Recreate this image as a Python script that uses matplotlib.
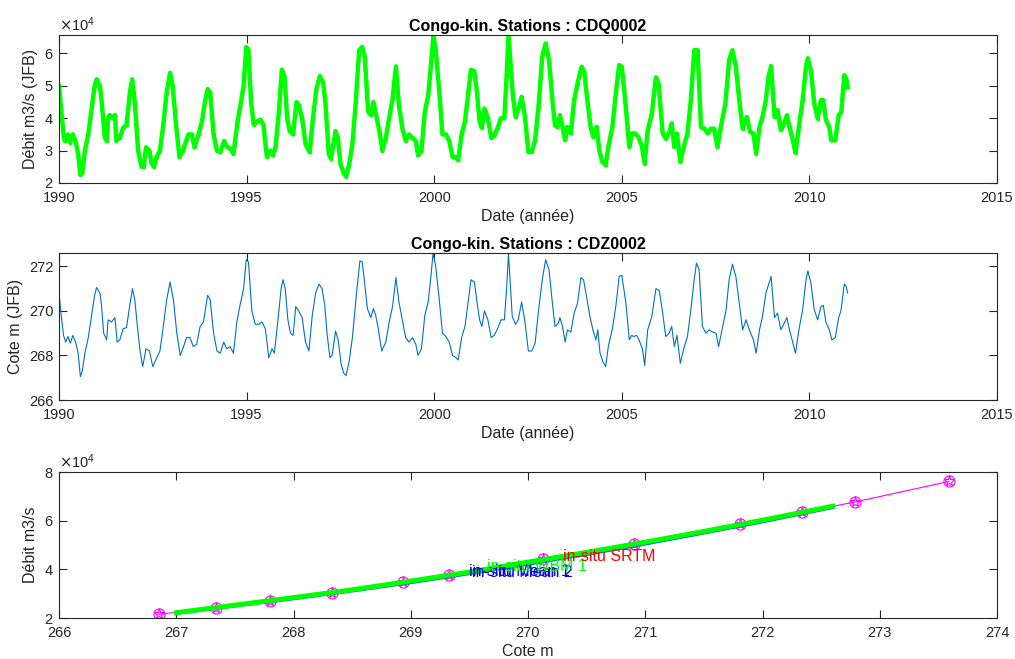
import numpy as np
import matplotlib
matplotlib.use("Agg")
import matplotlib.pyplot as plt
from matplotlib.ticker import ScalarFormatter

plt.rcParams['font.family'] = ['Liberation Sans', 'DejaVu Sans']

# ---------------- data: discharge (top) ----------------
q_year = [1990.00, 1990.06, 1990.12, 1990.15, 1990.24, 1990.30, 1990.37, 1990.45, 1990.51, 1990.57,
          1990.62, 1990.69, 1990.78, 1990.86, 1990.95, 1991.00, 1991.09, 1991.13, 1991.22, 1991.27,
          1991.31, 1991.35, 1991.43, 1991.49, 1991.53, 1991.62, 1991.71, 1991.80, 1991.89, 1991.95,
          1992.02, 1992.11, 1992.20, 1992.26, 1992.32, 1992.41, 1992.47, 1992.53, 1992.60, 1992.69,
          1992.78, 1992.87, 1992.96, 1993.03, 1993.12, 1993.21, 1993.30, 1993.39, 1993.45, 1993.54,
          1993.61, 1993.72, 1993.81, 1993.89, 1993.96, 1994.03, 1994.12, 1994.21, 1994.30, 1994.40,
          1994.49, 1994.58, 1994.65, 1994.76, 1994.85, 1994.92, 1994.99, 1995.05, 1995.12, 1995.19,
          1995.28, 1995.37, 1995.45, 1995.54, 1995.63, 1995.70, 1995.77, 1995.86, 1995.94, 1996.01,
          1996.08, 1996.15, 1996.24, 1996.33, 1996.39, 1996.48, 1996.57, 1996.68, 1996.77, 1996.86,
          1996.95, 1997.04, 1997.10, 1997.19, 1997.25, 1997.37, 1997.43, 1997.50, 1997.59, 1997.65,
          1997.73, 1997.82, 1997.91, 1998.00, 1998.08, 1998.15, 1998.24, 1998.31, 1998.38, 1998.47,
          1998.54, 1998.62, 1998.71, 1998.80, 1998.89, 1998.98, 1999.06, 1999.15, 1999.24, 1999.33,
          1999.42, 1999.51, 1999.57, 1999.66, 1999.75, 1999.84, 1999.91, 1999.98, 2000.04, 2000.13,
          2000.22, 2000.31, 2000.40, 2000.49, 2000.58, 2000.64, 2000.73, 2000.82, 2000.91, 2000.98,
          2001.07, 2001.14, 2001.21, 2001.27, 2001.34, 2001.43, 2001.52, 2001.60, 2001.69, 2001.78,
          2001.87, 2001.93, 2001.98, 2002.10, 2002.17, 2002.26, 2002.33, 2002.42, 2002.51, 2002.60,
          2002.69, 2002.78, 2002.88, 2002.97, 2003.06, 2003.15, 2003.22, 2003.28, 2003.35, 2003.42,
          2003.49, 2003.55, 2003.64, 2003.73, 2003.82, 2003.93, 2004.00, 2004.08, 2004.17, 2004.24,
          2004.33, 2004.40, 2004.48, 2004.57, 2004.64, 2004.75, 2004.84, 2004.93, 2005.00, 2005.09,
          2005.20, 2005.27, 2005.36, 2005.44, 2005.53, 2005.61, 2005.69, 2005.80, 2005.91, 2005.98,
          2006.09, 2006.17, 2006.26, 2006.33, 2006.40, 2006.47, 2006.56, 2006.65, 2006.75, 2006.84,
          2006.93, 2007.02, 2007.11, 2007.20, 2007.29, 2007.38, 2007.46, 2007.55, 2007.64, 2007.76,
          2007.86, 2007.95, 2008.04, 2008.13, 2008.22, 2008.33, 2008.42, 2008.51, 2008.58, 2008.67,
          2008.75, 2008.84, 2008.91, 2008.98, 2009.07, 2009.15, 2009.24, 2009.33, 2009.40, 2009.47,
          2009.56, 2009.63, 2009.72, 2009.82, 2009.91, 2009.96, 2010.04, 2010.13, 2010.22, 2010.31,
          2010.37, 2010.44, 2010.53, 2010.58, 2010.69, 2010.78, 2010.85, 2010.93, 2010.98, 2011.02]
q_val = [50000, 42500, 35000, 33000, 35000, 32500, 35000, 32500, 29000, 22500,
         23000, 30000, 35000, 42000, 50000, 52000, 50000, 46000, 34000, 33000,
         40000, 41000, 40000, 41000, 33000, 34000, 37000, 38000, 48000, 52000,
         45000, 30000, 25000, 25000, 31000, 30000, 26000, 25000, 28000, 30000,
         38000, 48000, 54000, 50000, 38000, 28000, 30000, 33000, 35000, 35000,
         31000, 35000, 39000, 45000, 49000, 48000, 35000, 30000, 29500, 33000,
         31000, 30500, 29000, 39000, 45000, 50000, 62000, 61000, 45000, 38000,
         39000, 39500, 38000, 28000, 30000, 28500, 31000, 42000, 55000, 53000,
         40000, 36000, 35000, 45000, 44000, 40000, 32000, 29500, 40000, 49000,
         53000, 51000, 45000, 29000, 27500, 36000, 34000, 26000, 23000, 22000,
         25500, 32000, 45000, 61000, 62000, 59000, 42000, 41000, 45000, 40000,
         36000, 30000, 34000, 40000, 46000, 56000, 44000, 37000, 33000, 35000,
         34000, 33000, 28500, 30000, 42000, 47000, 56000, 65500, 61000, 49000,
         35000, 35000, 33000, 28000, 28000, 27000, 35000, 39000, 48000, 55000,
         54500, 48000, 39000, 37000, 43000, 40000, 34000, 34500, 37000, 40000,
         40000, 53000, 65700, 46600, 40400, 43500, 46600, 40400, 29600, 29600,
         33200, 43500, 59000, 63100, 57900, 45600, 37800, 37300, 40900, 37300,
         33200, 37300, 35300, 45600, 50700, 55900, 54300, 45600, 37300, 34200,
         37300, 30100, 26500, 25500, 31100, 37300, 47600, 56400, 55900, 45600,
         31100, 35300, 35300, 34200, 31600, 26000, 36300, 41400, 52600, 50700,
         35300, 33700, 35300, 38400, 31100, 35300, 26500, 31100, 35300, 45600,
         61000, 61000, 37300, 36800, 35300, 36800, 36800, 31100, 37300, 44500,
         57900, 61000, 55900, 45600, 36800, 40400, 35800, 35300, 29100, 37300,
         40400, 45600, 52800, 56100, 40400, 42500, 36300, 38400, 40900, 37300,
         33200, 29300, 37300, 45600, 55900, 58500, 54800, 44500, 39900, 45600,
         45600, 39400, 37300, 33200, 33200, 40900, 41900, 53300, 52300, 49500]

# ---------------- data: stage (middle) ----------------
h_year = [1990.00, 1990.06, 1990.12, 1990.18, 1990.24, 1990.30, 1990.37, 1990.45, 1990.51, 1990.57,
          1990.62, 1990.69, 1990.78, 1990.86, 1990.95, 1991.00, 1991.09, 1991.13, 1991.19, 1991.27,
          1991.31, 1991.40, 1991.49, 1991.55, 1991.62, 1991.71, 1991.80, 1991.89, 1991.96, 1992.02,
          1992.09, 1992.16, 1992.23, 1992.32, 1992.41, 1992.50, 1992.58, 1992.69, 1992.78, 1992.87,
          1992.96, 1993.05, 1993.14, 1993.23, 1993.32, 1993.40, 1993.49, 1993.58, 1993.67, 1993.76,
          1993.85, 1993.96, 1994.03, 1994.12, 1994.21, 1994.30, 1994.39, 1994.47, 1994.56, 1994.65,
          1994.74, 1994.83, 1994.92, 1994.99, 1995.05, 1995.14, 1995.23, 1995.32, 1995.41, 1995.50,
          1995.59, 1995.68, 1995.74, 1995.83, 1995.92, 1995.97, 1996.03, 1996.10, 1996.17, 1996.24,
          1996.31, 1996.39, 1996.48, 1996.57, 1996.66, 1996.75, 1996.84, 1996.93, 1997.01, 1997.08,
          1997.15, 1997.22, 1997.28, 1997.37, 1997.44, 1997.52, 1997.59, 1997.65, 1997.73, 1997.82,
          1997.93, 1998.02, 1998.08, 1998.13, 1998.22, 1998.31, 1998.38, 1998.44, 1998.51, 1998.60,
          1998.71, 1998.80, 1998.89, 1998.98, 1999.06, 1999.15, 1999.24, 1999.33, 1999.42, 1999.51,
          1999.57, 1999.66, 1999.75, 1999.84, 1999.91, 1999.97, 2000.04, 2000.13, 2000.22, 2000.31,
          2000.40, 2000.49, 2000.58, 2000.64, 2000.73, 2000.82, 2000.91, 2000.98, 2001.07, 2001.14,
          2001.21, 2001.27, 2001.34, 2001.43, 2001.52, 2001.60, 2001.69, 2001.78, 2001.87, 2001.93,
          2001.98, 2002.08, 2002.17, 2002.24, 2002.33, 2002.42, 2002.51, 2002.60, 2002.69, 2002.78,
          2002.88, 2002.97, 2003.06, 2003.15, 2003.22, 2003.31, 2003.35, 2003.42, 2003.49, 2003.55,
          2003.64, 2003.73, 2003.82, 2003.91, 2003.98, 2004.06, 2004.15, 2004.23, 2004.31, 2004.36,
          2004.42, 2004.50, 2004.57, 2004.64, 2004.75, 2004.84, 2004.93, 2005.00, 2005.11, 2005.20,
          2005.26, 2005.32, 2005.39, 2005.46, 2005.55, 2005.61, 2005.69, 2005.80, 2005.91, 2006.00,
          2006.09, 2006.17, 2006.26, 2006.33, 2006.40, 2006.47, 2006.56, 2006.65, 2006.75, 2006.84,
          2006.93, 2006.99, 2007.06, 2007.15, 2007.24, 2007.33, 2007.42, 2007.51, 2007.58, 2007.67,
          2007.78, 2007.86, 2007.95, 2008.04, 2008.13, 2008.22, 2008.31, 2008.40, 2008.51, 2008.58,
          2008.67, 2008.75, 2008.84, 2008.98, 2009.07, 2009.15, 2009.24, 2009.33, 2009.40, 2009.47,
          2009.56, 2009.63, 2009.72, 2009.82, 2009.91, 2009.96, 2010.04, 2010.13, 2010.22, 2010.31,
          2010.37, 2010.44, 2010.53, 2010.60, 2010.69, 2010.78, 2010.84, 2010.93, 2010.98, 2011.02]
h_val = [270.8, 269.8, 268.9, 268.6, 268.85, 268.55, 268.9, 268.55, 268.1, 267.05,
         267.3, 268.1, 268.8, 269.7, 270.7, 271.05, 270.8, 270.3, 269.0, 268.7,
         269.6, 269.5, 269.7, 268.6, 268.7, 269.2, 269.25, 270.3, 271.0, 270.5,
         269.3, 268.2, 267.5, 268.3, 268.2, 267.5, 267.8, 268.2, 269.3, 270.5,
         271.3, 270.5, 269.0, 268.0, 268.4, 268.8, 268.8, 268.4, 268.5, 269.3,
         269.5, 270.7, 270.5, 269.0, 268.2, 268.1, 268.6, 268.3, 268.4, 268.1,
         269.5, 270.3, 271.0, 272.3, 272.2, 270.0, 269.4, 269.4, 269.5, 269.2,
         267.9, 268.3, 268.1, 269.5, 271.0, 271.4, 271.0, 269.6, 269.0, 268.9,
         270.2, 270.0, 269.7, 268.6, 268.2, 269.8, 270.8, 271.2, 271.0, 270.3,
         268.9, 267.9, 268.0, 269.1, 268.7, 267.6, 267.2, 267.1, 267.7, 268.8,
         270.8, 272.25, 272.2, 271.5, 270.1, 269.7, 270.1, 269.8, 269.2, 268.2,
         268.6, 269.5, 270.2, 271.5, 270.4, 269.6, 268.8, 268.6, 268.8, 268.5,
         268.0, 268.3, 269.8, 270.4, 271.5, 272.6, 272.0, 270.6, 269.0, 268.85,
         268.6, 268.0, 267.9, 267.8, 268.8, 269.3, 270.5, 271.4, 271.3, 270.4,
         269.6, 269.3, 270.0, 269.6, 268.8, 268.9, 269.2, 269.6, 269.6, 271.0,
         272.57, 269.75, 269.4, 269.6, 270.4, 269.5, 268.2, 268.2, 268.55, 270.0,
         271.4, 272.3, 271.85, 270.35, 269.3, 269.45, 269.7, 269.3, 268.6, 269.15,
         269.05, 269.9, 270.35, 271.5, 271.4, 270.65, 269.75, 269.15, 268.7, 269.15,
         268.1, 267.7, 267.5, 268.4, 269.2, 270.2, 271.55, 271.6, 270.35, 268.7,
         268.9, 268.85, 268.9, 268.7, 268.3, 267.55, 269.15, 269.75, 271.0, 270.9,
         269.9, 268.85, 269.0, 269.3, 268.4, 268.9, 267.65, 268.3, 268.85, 270.05,
         271.4, 272.15, 271.85, 269.3, 269.0, 269.15, 269.05, 269.0, 268.4, 269.15,
         270.05, 271.4, 272.1, 271.55, 270.35, 269.15, 269.6, 269.15, 268.7, 268.1,
         269.15, 269.75, 270.8, 271.55, 269.7, 269.9, 269.15, 269.45, 269.7, 269.15,
         268.55, 268.1, 269.15, 270.05, 271.4, 271.8, 271.25, 270.05, 269.6, 270.2,
         270.25, 269.5, 269.15, 268.7, 268.8, 269.7, 270.0, 271.2, 271.1, 270.8]

# ---------------- data: rating curves (bottom) ----------------
srtm_h = [266.85, 267.34, 267.80, 268.33, 268.93, 269.33, 270.13, 270.90, 271.81, 272.34, 272.79, 273.59]
srtm_q = [21500, 24300, 27000, 30200, 34700, 37600, 44100, 50300, 58500, 63400, 67700, 76100]
mean_h = [267.0, 267.5, 268.0, 268.5, 269.0, 269.5, 270.0, 270.5, 271.0, 271.5, 272.0, 272.6]
mean1_q = [22000, 25000, 28000, 31200, 34600, 38300, 42200, 46200, 50500, 55000, 59600, 65500]
wbm_q = [22200, 25300, 28400, 31600, 35200, 38900, 43000, 47000, 51200, 55600, 60200, 66000]
label_text = ["in-situ Mean 1", "in-situ Mean 2", "in-situ WBM 1", "in-situ SRTM"]
label_h = [269.50, 269.52, 269.65, 270.30]
label_q = [39000, 38800, 41200, 45200]
label_col = [(0, 0, 0.75), (0, 0, 1), (0, 1, 0), (1, 0, 0)]

# ---------------- figure ----------------
W, H = 1015, 659
fig = plt.figure(figsize=(W / 100, H / 100), dpi=100)
gray = (0.15, 0.15, 0.15)
matlab_blue = (0, 0.447, 0.741)
TICK_FS = 10.5
LAB_FS = 11.5


def style(ax):
    for s in ax.spines.values():
        s.set_color(gray)
        s.set_linewidth(0.8)
    ax.tick_params(direction='in', top=True, right=True, length=6, width=0.8,
                   colors=gray, labelsize=TICK_FS)
    ax.tick_params(axis='x', pad=5.5)
    ax.tick_params(axis='y', pad=4)


def sci(ax):
    fmt = ScalarFormatter(useMathText=True)
    fmt.set_powerlimits((4, 4))
    ax.yaxis.set_major_formatter(fmt)
    ax.yaxis.get_offset_text().set_fontsize(TICK_FS)
    ax.yaxis.get_offset_text().set_color(gray)


def pos(l, t, r, b):
    return [l / W, 1 - b / H, (r - l) / W, (b - t) / H]


# top
ax1 = fig.add_axes(pos(59, 35, 997, 183))
ax1.plot(q_year, q_val, color=matlab_blue, lw=0.8)
ax1.plot(q_year, q_val, color=(0, 1, 0), lw=3.2, marker='.', ms=3)
ax1.set_xlim(1990, 2015)
ax1.set_ylim(20000, 65700)
ax1.set_xticks([1990, 1995, 2000, 2005, 2010, 2015])
ax1.set_yticks([20000, 30000, 40000, 50000, 60000])
sci(ax1)
style(ax1)
ax1.set_xlabel("Date (année)", fontsize=LAB_FS, color=gray, labelpad=3)
ax1.set_ylabel("Débit m3/s (JFB)", fontsize=LAB_FS, color=gray, labelpad=4)
ax1.set_title("Congo-kin. Stations : CDQ0002", fontsize=LAB_FS, fontweight='bold', pad=3)

# middle
ax2 = fig.add_axes(pos(59, 253, 997, 400))
ax2.plot(h_year, h_val, color=matlab_blue, lw=0.8)
ax2.set_xlim(1990, 2015)
ax2.set_ylim(266, 272.6)
ax2.set_xticks([1990, 1995, 2000, 2005, 2010, 2015])
ax2.set_yticks([266, 268, 270, 272])
style(ax2)
ax2.set_xlabel("Date (année)", fontsize=LAB_FS, color=gray, labelpad=3)
ax2.set_ylabel("Cote m (JFB)", fontsize=LAB_FS, color=gray, labelpad=4)
ax2.set_title("Congo-kin. Stations : CDZ0002", fontsize=LAB_FS, fontweight='bold', pad=3)

# bottom
ax3 = fig.add_axes(pos(59, 472, 997, 618))
ax3.plot(srtm_h, srtm_q, color=(1, 0, 1), lw=0.8, marker='o', mfc='none', mec=(1, 0, 1), ms=8, mew=0.8)
ax3.plot(srtm_h, srtm_q, ls='none', marker='*', mfc='none', mec=(1, 0, 1), ms=8, mew=0.8)
ax3.plot(mean_h, mean1_q, color=matlab_blue, lw=2.5)
ax3.plot(mean_h, wbm_q, color=(0, 1, 0), lw=3.5)
for txt, hh, qq, cc in zip(label_text, label_h, label_q, label_col):
    ax3.text(hh, qq, txt, color=cc, fontsize=LAB_FS, va='center', ha='left')
ax3.set_xlim(266, 274)
ax3.set_ylim(20000, 80000)
ax3.set_xticks(range(266, 275))
ax3.set_yticks([20000, 40000, 60000, 80000])
sci(ax3)
style(ax3)
ax3.set_xlabel("Cote m", fontsize=LAB_FS, color=gray, labelpad=3)
ax3.set_ylabel("Débit m3/s", fontsize=LAB_FS, color=gray, labelpad=4)

fig.savefig("out.png", dpi=100)
